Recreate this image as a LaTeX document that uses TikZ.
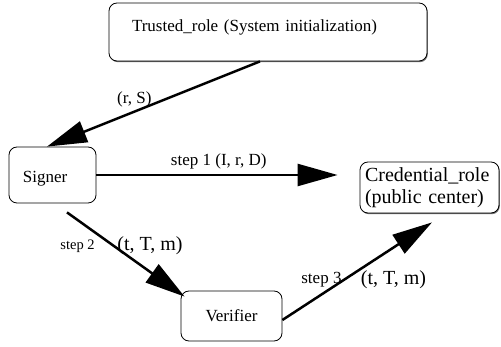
\documentclass[tikz,border=0pt]{standalone}
\usepackage{fontspec}
\setmainfont{Liberation Serif}
\usetikzlibrary{arrows.meta, shapes, shadows}

\begin{document}
\begin{tikzpicture}[x=1pt, y=-1pt]
\tikzstyle{role_box}=[rectangle, rounded corners=8pt, draw=black, line width=0.8pt, fill=white, inner sep=0pt, align=left, font=\fontsize{17}{20}\selectfont]
\tikzstyle{role_shadow}=[drop shadow={shadow xshift=0.8pt, shadow yshift=-1.2pt, fill=black!55, opacity=1}]
\tikzstyle{msg}=[line width=2.5pt, -{Triangle[length=40pt, width=22pt]}]
\tikzstyle{lbl}=[inner sep=0pt, font=\fontsize{17}{20}\selectfont]
\tikzstyle{small_lbl}=[inner sep=0pt, font=\fontsize{14.5}{17}\selectfont]
\tikzstyle{big_lbl}=[inner sep=0pt, font=\fontsize{20}{24}\selectfont]
%
\useasboundingbox (0,0) rectangle (501,347);

\node [role_box, role_shadow] (trusted) at (268,32) [minimum width=318pt, minimum height=58pt, text width=272pt, text height=12pt, text depth=12pt] {Trusted\_role (System initialization)};
\node [role_box] (signer) at (52.5,175) [minimum width=87pt, minimum height=56pt, text width=59pt, text height=16pt, text depth=0pt] {Signer};
\node [role_box] (verifier) at (231.5,316) [minimum width=101pt, minimum height=50pt, align=center] {Verifier};
\node [role_box, role_shadow] (credential) at (429.5,187.5) [minimum width=139pt, minimum height=51pt, text width=129pt, font=\fontsize{20}{22}\selectfont] {Credential\_role\\(public center)};

\draw [msg] ([xshift=-8pt]trusted.south) -- node [lbl, pos=.59, yshift=12pt] (rs) {(r, S)} ([xshift=-5.5pt]signer.north);
\draw [msg, shorten >=22pt] (signer.east) -- node [lbl, pos=.465, yshift=14pt] (step1) {step 1 (I, r, D)} (signer.east -| credential.west);
\draw [msg] ([xshift=14.5pt, yshift=-9pt]signer.south) -- node [small_lbl, pos=.4, xshift=-36.5pt] (step2) {step 2}
	node [big_lbl, pos=.4, xshift=36pt] (tTm2) {(t, T, m)} ([xshift=4pt, yshift=-6pt]verifier.north west);
\draw [msg] ([yshift=-4pt]verifier.east) -- node [lbl, pos=.408, xshift=-22pt] (step3) {step 3}
	node [big_lbl, pos=.408, xshift=50pt] (tTm3) {(t, T, m)} ([xshift=2.5pt, yshift=-9pt]credential.south);
\end{tikzpicture}
\end{document}
